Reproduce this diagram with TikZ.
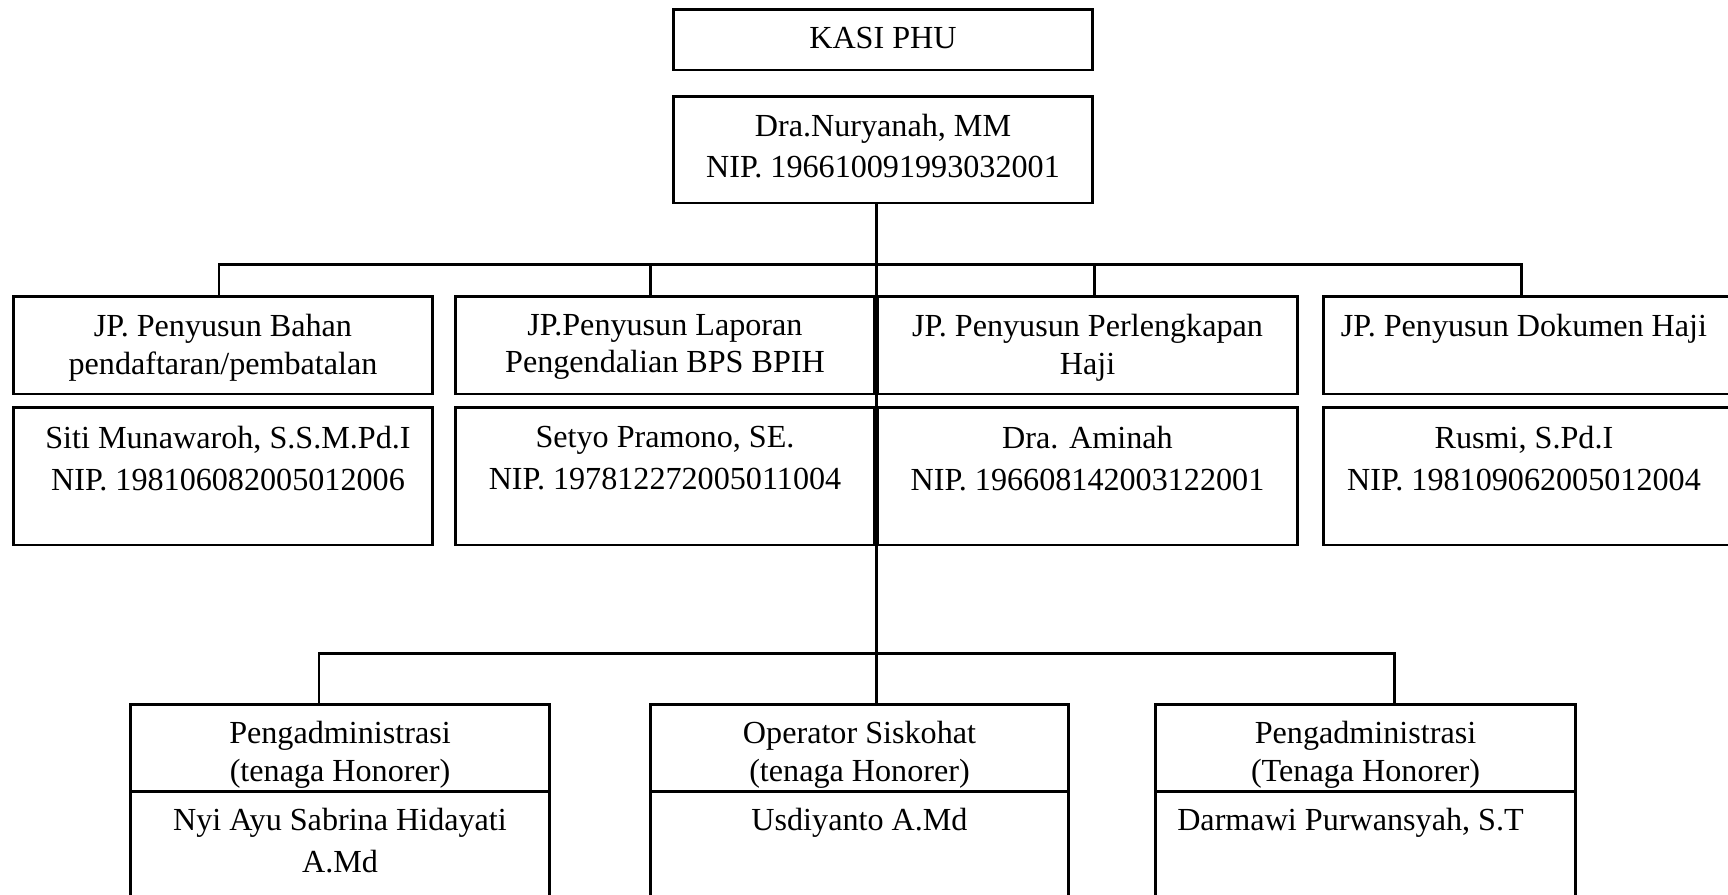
\documentclass[tikz,border=0pt]{standalone}
\usepackage{fontspec}
\setmainfont{Liberation Serif}
\begin{document}
\begin{tikzpicture}[x=0.02cm,y=-0.02cm,
  box/.style={draw,line width=1.7pt,minimum width=8.4cm,inner sep=0pt},
  txt/.style={anchor=north,align=center,inner sep=0pt,font=\fontsize{18.3pt}{24pt}\selectfont},
  txtjp/.style={txt,font=\fontsize{18.3pt}{21.3pt}\selectfont},
  conn/.style={line width=1.7pt}]
  \useasboundingbox (0,0) rectangle (1728,894);
  % head
  \node[box,minimum height=1.22cm] (kasi) at (883,39.5) {};
  \node[box,minimum height=2.14cm] (kepala) at (883,149.5) {};
  \node[txt] (kasit) at ([yshift=-0.39cm]kasi.north) {KASI PHU};
  \node[txt,font=\fontsize{18.3pt}{23.3pt}\selectfont] (kepalat) at ([yshift=-0.39cm]kepala.north) {Dra.Nuryanah, MM\\NIP. 196610091993032001};
  % first row
  \node[box,minimum height=1.96cm] (jp1) at (223,345) {};
  \node[box,minimum height=1.96cm] (jp2) at (665,345) {};
  \node[box,minimum height=1.96cm,minimum width=8.42cm] (jp3) at (1087.5,345) {};
  \node[box,minimum height=1.96cm,minimum width=8.44cm] (jp4) at (1534,345) {};
  \node[box,minimum height=2.76cm] (nm1) at (223,476) {};
  \node[box,minimum height=2.76cm] (nm2) at (665,476) {};
  \node[box,minimum height=2.76cm,minimum width=8.42cm] (nm3) at (1087.5,476) {};
  \node[box,minimum height=2.76cm,minimum width=8.44cm] (nm4) at (1534,476) {};
  \node[txtjp] (jp1t) at ([yshift=-0.39cm]jp1.north) {JP. Penyusun Bahan\\pendaftaran/pembatalan};
  \node[txtjp] (jp2t) at ([yshift=-0.39cm]jp2.north) {JP.Penyusun Laporan\\Pengendalian BPS BPIH};
  \node[txtjp] (jp3t) at ([yshift=-0.39cm]jp3.north) {JP. Penyusun Perlengkapan\\Haji};
  \node[txtjp] (jp4t) at ([xshift=-0.2cm,yshift=-0.39cm]jp4.north) {JP. Penyusun Dokumen Haji};
  \node[txt] (nm1t) at ([xshift=0.1cm,yshift=-0.41cm]nm1.north) {Siti Munawaroh, S.S.M.Pd.I\\NIP. 198106082005012006};
  \node[txt] (nm2t) at ([yshift=-0.41cm]nm2.north) {Setyo Pramono, SE.\\NIP. 197812272005011004};
  \node[txt] (nm3t) at ([yshift=-0.41cm]nm3.north) {Dra. Aminah\\NIP. 196608142003122001};
  \node[txt] (nm4t) at ([xshift=-0.2cm,yshift=-0.41cm]nm4.north) {Rusmi, S.Pd.I\\NIP. 198109062005012004};
  % second row
  \node[box,minimum height=1.74cm] (hon1) at (340,747.5) {};
  \node[box,minimum height=1.74cm,minimum width=8.38cm] (hon2) at (859.5,747.5) {};
  \node[box,minimum height=1.74cm,minimum width=8.42cm] (hon3) at (1365.5,747.5) {};
  \node[box,minimum height=2.98cm] (nh1) at (340,865.5) {};
  \node[box,minimum height=2.98cm,minimum width=8.38cm] (nh2) at (859.5,865.5) {};
  \node[box,minimum height=2.98cm,minimum width=8.42cm] (nh3) at (1365.5,865.5) {};
  \node[txt,font=\fontsize{18.3pt}{21.8pt}\selectfont] (hon1t) at ([yshift=-0.37cm]hon1.north) {Pengadministrasi\\(tenaga Honorer)};
  \node[txt,font=\fontsize{18.3pt}{21.8pt}\selectfont] (hon2t) at ([yshift=-0.37cm]hon2.north) {Operator Siskohat\\(tenaga Honorer)};
  \node[txt,font=\fontsize{18.3pt}{21.8pt}\selectfont] (hon3t) at ([yshift=-0.37cm]hon3.north) {Pengadministrasi\\(Tenaga Honorer)};
  \node[txt] (nh1t) at ([yshift=-0.37cm]nh1.north) {Nyi Ayu Sabrina Hidayati\\A.Md};
  \node[txt] (nh2t) at ([yshift=-0.37cm]nh2.north) {Usdiyanto A.Md};
  \node[txt] (nh3t) at ([xshift=-0.3cm,yshift=-0.37cm]nh3.north) {Darmawi Purwansyah, S.T};
  % connectors
  \coordinate (d1) at (219,264);
  \coordinate (d2) at (650,264);
  \coordinate (d3) at (1094,264);
  \coordinate (d4) at (1521,264);
  \coordinate (b1) at (876,264);
  \coordinate (e1) at (319,653);
  \coordinate (e2) at (876,653);
  \coordinate (e3) at (1394,653);
  \draw[conn] (kepala.south -| b1) -- (e2) -- (e2 |- hon2.north);
  \draw[conn] (d1 |- jp1.north) -- (d1) -- (d4) -- (d4 |- jp4.north);
  \draw[conn] (d2) -- (d2 |- jp2.north);
  \draw[conn] (d3) -- (d3 |- jp3.north);
  \draw[conn] (e1 |- hon1.north) -- (e1) -- (e3) -- (e3 |- hon3.north);
\end{tikzpicture}
\end{document}
